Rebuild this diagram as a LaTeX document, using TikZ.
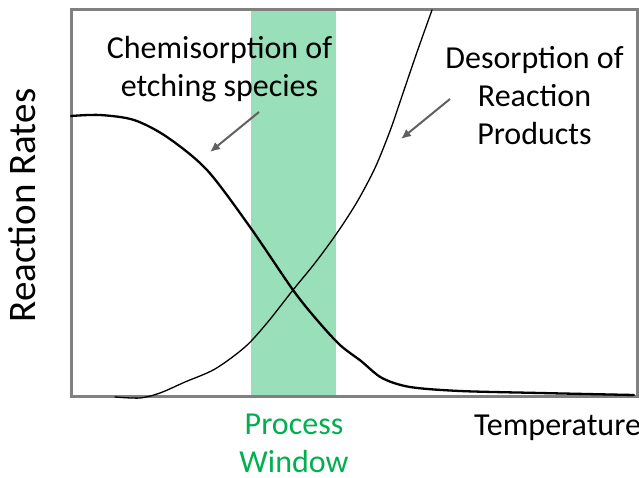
\documentclass[tikz,border=0pt]{standalone}
\usepackage{fontspec}
\setmainfont{Carlito}
\usepackage{tikz}
\usetikzlibrary{arrows.meta}
\definecolor{windowgreen}{RGB}{0,176,80}
\definecolor{bandgreen}{RGB}{153,223,185}
\definecolor{framegray}{RGB}{128,128,128}
\definecolor{pointergray}{RGB}{96,96,96}
\tikzstyle{annot}=[inner sep=0pt,align=center,font=\fontsize{32}{38}\selectfont]
\tikzstyle{ratecurve}=[draw,black,line cap=round,line join=round]
\tikzstyle{pointer}=[draw,pointergray,line width=2pt,-{Latex[length=10pt,width=9pt]}]

\begin{document}
\begin{tikzpicture}[x=1pt,y=-1pt]
    \useasboundingbox (0,0) rectangle (639,478);
    % First we draw the process window and the frame
    \fill[bandgreen] (251,10) rectangle (336,396);
    \draw[framegray,line width=3pt] (71,10) rectangle (637,396);
    % Then the two rate curves
    \draw[ratecurve,line width=2.3pt] plot[smooth,tension=0.5] coordinates {(71,116) (100,115) (134,120) (167,137) (207,170) (250,227) (293,290) (317,320) (340,345) (361,361) (382,378) (410,387) (460,391) (540,393) (634,395)};
    \draw[ratecurve,line width=1.3pt] plot[smooth,tension=0.5] coordinates {(115,397) (140,398) (160,393) (185,382) (215,369) (245,347) (267,323) (293,290) (315,263) (337,233) (357,202) (375,168) (390,131) (400,102) (416,55) (432,10)};
    % Labels
    \node[annot,anchor=base] (chem) at (219.5,97) {Chemisorption of\\etching species};
    \node[annot,anchor=base] (desorb) at (534.5,145) {Desorption of\\Reaction\\Products};
    \node[annot,anchor=base,text=windowgreen] (window) at (294,472) {Process\\Window};
    \node[annot,anchor=base west] (temp) at (474,435) {Temperature};
    \node[annot,anchor=base,rotate=90,font=\fontsize{39}{44}\selectfont] (rates) at (35,205.5) {Reaction Rates};
    % Arrows from the labels to the curves
    \coordinate (chemtail) at (259,112);
    \coordinate (chemhead) at (210,152);
    \coordinate (desorbtail) at (450,99);
    \coordinate (desorbhead) at (401,139);
    \foreach \source/\dest in {chemtail/chemhead, desorbtail/desorbhead}
        \path[pointer] (\source) -- (\dest);
\end{tikzpicture}
\end{document}
